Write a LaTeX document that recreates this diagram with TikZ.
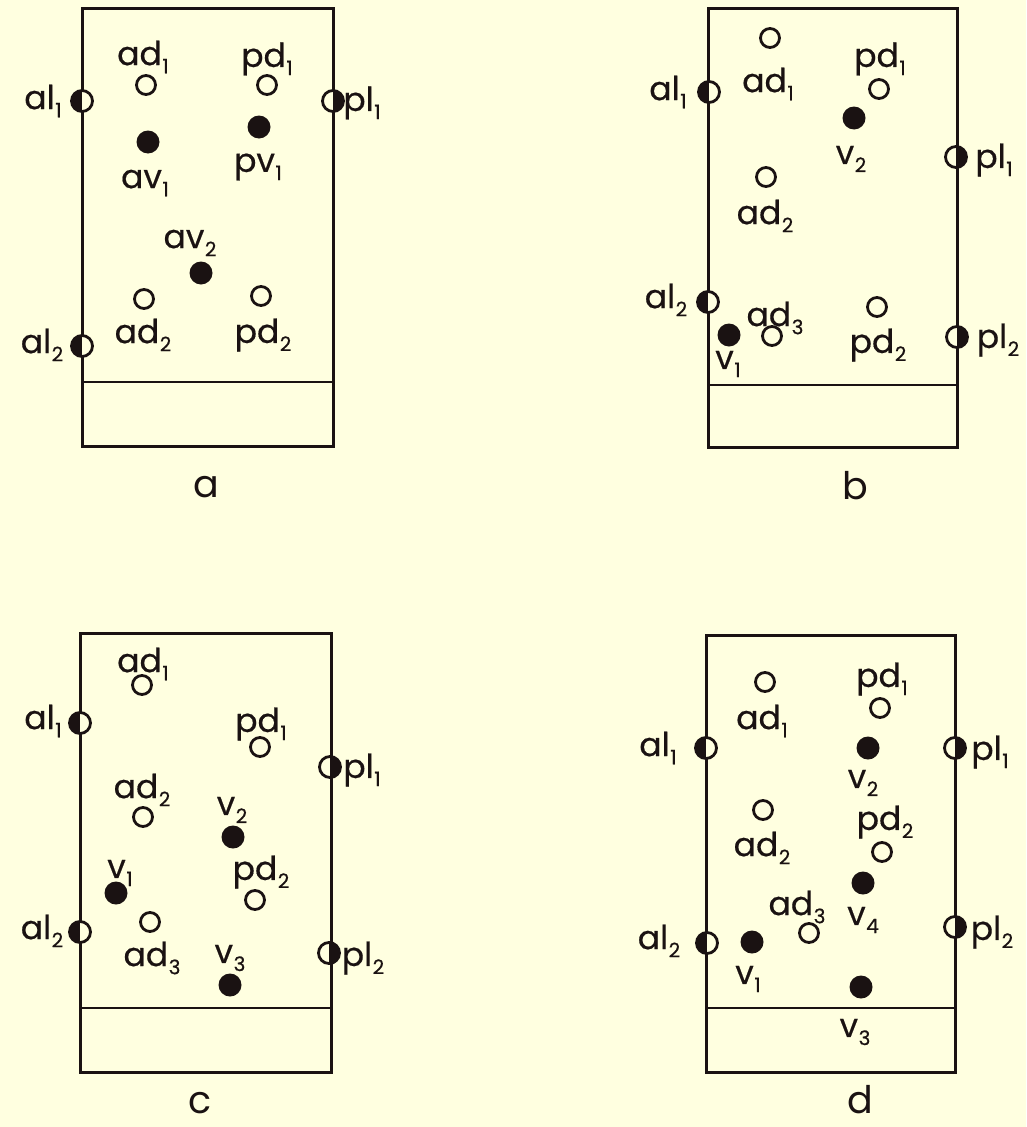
\documentclass[tikz,border=0pt]{standalone}
\usepackage{fontspec}
\setmainfont{Poppins}[FakeBold=0.5]
\newfontfamily\capfont{Poppins}
\definecolor{bg}{HTML}{FFFFE0}
\definecolor{ink}{HTML}{1A1212}
\newcommand\lbl[2]{#1\kern0.5pt\raisebox{-0.45ex}{\fontsize{20}{20}\selectfont #2}}
\tikzset{
  frame/.style={draw=ink, line width=3pt},
  divline/.style={draw=ink, line width=2.4pt},
  opendot/.style={circle, draw=ink, line width=2.8pt, fill=bg, minimum size=19pt, inner sep=0pt},
  fulldot/.style={circle, fill=ink, minimum size=23pt, inner sep=0pt},
  lmark/.style={circle, draw=ink, line width=2.8pt, fill=bg, minimum size=21pt, inner sep=0pt,
    path picture={\fill[ink] (path picture bounding box.south west) rectangle (path picture bounding box.north);}},
  rmark/.style={circle, draw=ink, line width=2.8pt, fill=bg, minimum size=21pt, inner sep=0pt,
    path picture={\fill[ink] (path picture bounding box.south) rectangle (path picture bounding box.north east);}},
  txt/.style={text=ink, font=\fontsize{33}{33}\selectfont, inner sep=0pt},
  captxt/.style={text=ink, font=\capfont\fontsize{38}{38}\selectfont, inner sep=0pt, anchor=base},
}
\begin{document}
\begin{tikzpicture}[x=1pt, y=-1pt]
\fill[bg] (0,0) rectangle (1026,1127);
\useasboundingbox (0,0) rectangle (1026,1127);

% ---------------- panel a ----------------
\draw[frame] (82,8) rectangle (333,446);
\draw[divline] (82,382) -- (333,382);
\node[lmark] (a-al1) at (82,101) {};
\node[lmark] (a-al2) at (82,346) {};
\node[rmark] (a-pl1) at (333,101) {};
\node[txt] (a-al1t) at (43,101) {\lbl{al}{1}};
\node[txt] (a-al2t) at (42,345) {\lbl{al}{2}};
\node[txt] (a-pl1t) at (362,103) {\lbl{pl}{1}};
\node[opendot] (a-ad1) at (146,85) {};
\node[txt] (a-ad1t) at (143,57) {\lbl{ad}{1}};
\node[opendot] (a-pd1) at (267,85) {};
\node[txt] (a-pd1t) at (267,59) {\lbl{pd}{1}};
\node[fulldot] (a-av1) at (148,142) {};
\node[txt] (a-av1t) at (145,183) {\lbl{av}{1}};
\node[fulldot] (a-pv1) at (259,127) {};
\node[txt] (a-pv1t) at (258,167) {\lbl{pv}{1}};
\node[fulldot] (a-av2) at (201,273) {};
\node[txt] (a-av2t) at (190,243) {\lbl{av}{2}};
\node[opendot] (a-ad2) at (144,299) {};
\node[txt] (a-ad2t) at (143,335) {\lbl{ad}{2}};
\node[opendot] (a-pd2) at (261,296) {};
\node[txt] (a-pd2t) at (263,335) {\lbl{pd}{2}};
\node[captxt] (a-cap) at (206,497) {a};

% ---------------- panel b ----------------
\draw[frame] (708,8) rectangle (957,447);
\draw[divline] (708,385) -- (957,385);
\node[lmark] (b-al1) at (709,92) {};
\node[lmark] (b-al2) at (708,302) {};
\node[rmark] (b-pl1) at (956,157) {};
\node[rmark] (b-pl2) at (957,337) {};
\node[txt] (b-al1t) at (668,92) {\lbl{al}{1}};
\node[txt] (b-al2t) at (666,300) {\lbl{al}{2}};
\node[txt] (b-pl1t) at (994,160) {\lbl{pl}{1}};
\node[txt] (b-pl2t) at (998,340) {\lbl{pl}{2}};
\node[opendot] (b-ad1) at (770,38) {};
\node[txt] (b-ad1t) at (768,84) {\lbl{ad}{1}};
\node[opendot] (b-pd1) at (879,89) {};
\node[txt] (b-pd1t) at (880,59) {\lbl{pd}{1}};
\node[fulldot] (b-v2) at (854,118) {};
\node[txt] (b-v2t) at (851,159) {\lbl{v}{2}};
\node[opendot] (b-ad2) at (766,177) {};
\node[txt] (b-ad2t) at (765,216) {\lbl{ad}{2}};
\node[txt] (b-ad3t) at (775,318) {\lbl{ad}{3}};
\node[opendot] (b-ad3) at (772,336) {};
\node[fulldot] (b-v1) at (729,335) {};
\node[txt] (b-v1t) at (728,364) {\lbl{v}{1}};
\node[opendot] (b-pd2) at (877,307) {};
\node[txt] (b-pd2t) at (878,345) {\lbl{pd}{2}};
\node[captxt] (b-cap) at (855,499) {b};

% ---------------- panel c ----------------
\draw[frame] (80,633) rectangle (331,1072);
\draw[divline] (80,1008) -- (331,1008);
\node[lmark] (c-al1) at (80,723) {};
\node[lmark] (c-al2) at (80,932) {};
\node[rmark] (c-pl1) at (330,767) {};
\node[rmark] (c-pl2) at (329,953) {};
\node[txt] (c-al1t) at (43,721) {\lbl{al}{1}};
\node[txt] (c-al2t) at (42,931) {\lbl{al}{2}};
\node[txt] (c-pl1t) at (362,770) {\lbl{pl}{1}};
\node[txt] (c-pl2t) at (363,958) {\lbl{pl}{2}};
\node[txt] (c-ad1t) at (143,664) {\lbl{ad}{1}};
\node[opendot] (c-ad1) at (142,685) {};
\node[txt] (c-pd1t) at (261,724) {\lbl{pd}{1}};
\node[opendot] (c-pd1) at (260,747) {};
\node[txt] (c-ad2t) at (142,790) {\lbl{ad}{2}};
\node[opendot] (c-ad2) at (143,817) {};
\node[txt] (c-v2t) at (232,810) {\lbl{v}{2}};
\node[fulldot] (c-v2) at (233,837) {};
\node[txt] (c-v1t) at (120,873) {\lbl{v}{1}};
\node[fulldot] (c-v1) at (116,893) {};
\node[txt] (c-pd2t) at (261,872) {\lbl{pd}{2}};
\node[opendot] (c-pd2) at (255,900) {};
\node[opendot] (c-ad3) at (150,922) {};
\node[txt] (c-ad3t) at (152,958) {\lbl{ad}{3}};
\node[txt] (c-v3t) at (230,958) {\lbl{v}{3}};
\node[fulldot] (c-v3) at (230,985) {};
\node[captxt] (c-cap) at (200,1113) {c};

% ---------------- panel d ----------------
\draw[frame] (706,635) rectangle (955,1072);
\draw[divline] (706,1008) -- (955,1008);
\node[lmark] (d-al1) at (706,748) {};
\node[lmark] (d-al2) at (707,943) {};
\node[rmark] (d-pl1) at (955,748) {};
\node[rmark] (d-pl2) at (955,927) {};
\node[txt] (d-al1t) at (658,748) {\lbl{al}{1}};
\node[txt] (d-al2t) at (659,941) {\lbl{al}{2}};
\node[txt] (d-pl1t) at (990,752) {\lbl{pl}{1}};
\node[txt] (d-pl2t) at (992,932) {\lbl{pl}{2}};
\node[opendot] (d-ad1) at (765,682) {};
\node[txt] (d-ad1t) at (762,721) {\lbl{ad}{1}};
\node[txt] (d-pd1t) at (882,679) {\lbl{pd}{1}};
\node[opendot] (d-pd1) at (880,708) {};
\node[fulldot] (d-v2) at (868,748) {};
\node[txt] (d-v2t) at (863,783) {\lbl{v}{2}};
\node[opendot] (d-ad2) at (763,810) {};
\node[txt] (d-ad2t) at (762,848) {\lbl{ad}{2}};
\node[txt] (d-pd2t) at (885,822) {\lbl{pd}{2}};
\node[opendot] (d-pd2) at (882,852) {};
\node[fulldot] (d-v4) at (863,883) {};
\node[txt] (d-v4t) at (863,920) {\lbl{v}{4}};
\node[txt] (d-ad3t) at (797,907) {\lbl{ad}{3}};
\node[opendot] (d-ad3) at (809,933) {};
\node[fulldot] (d-v1) at (752,942) {};
\node[txt] (d-v1t) at (748,979) {\lbl{v}{1}};
\node[fulldot] (d-v3) at (861,987) {};
\node[txt] (d-v3t) at (855,1032) {\lbl{v}{3}};
\node[captxt] (d-cap) at (860,1113) {d};
\end{tikzpicture}
\end{document}
